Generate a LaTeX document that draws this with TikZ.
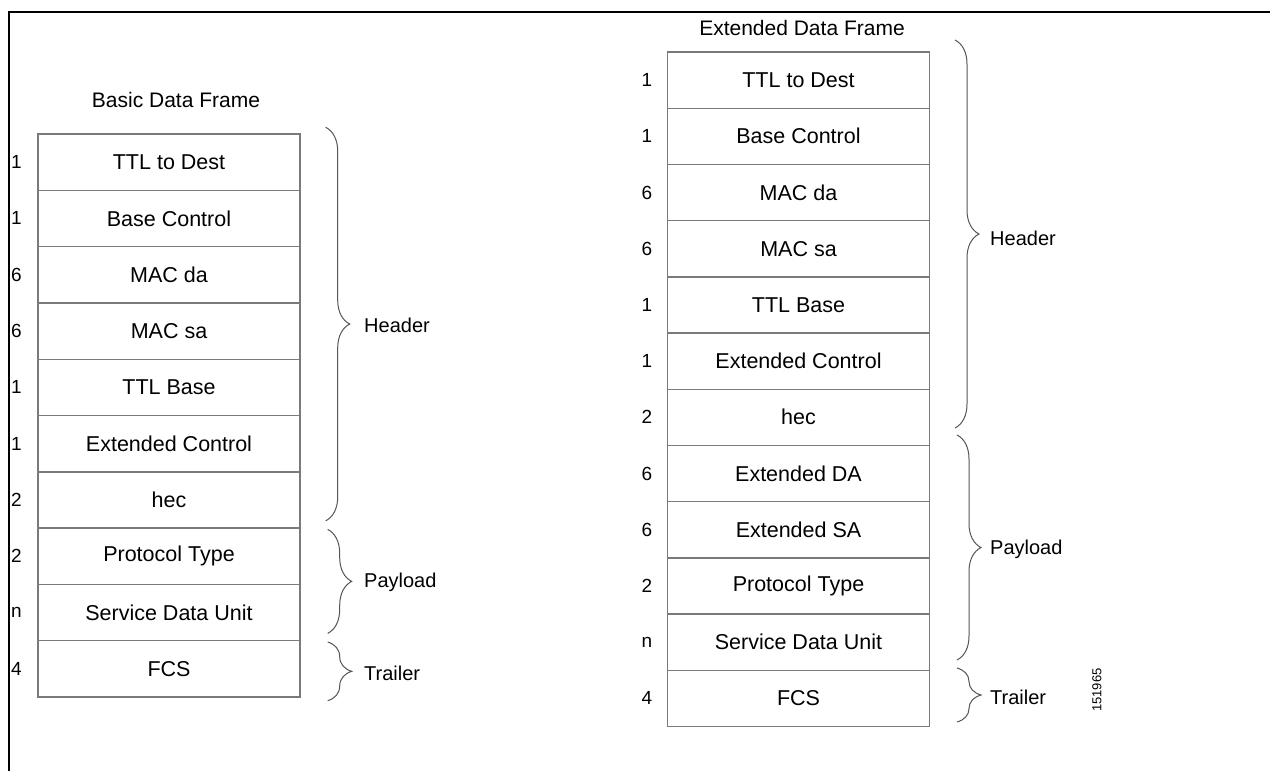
\documentclass[tikz,border=0pt]{standalone}
\usepackage{fontspec}
\setmainfont{Liberation Sans}
\usetikzlibrary{decorations.pathreplacing,calc}
\definecolor{rowgray}{HTML}{7A7A7A}
\definecolor{bracegray}{HTML}{555555}
\begin{document}
\begin{tikzpicture}[x=1pt,y=-1pt,
  rowbox/.style={draw=rowgray,line width=1.4pt,minimum width=262pt,minimum height=56.3pt,inner sep=0pt,font=\fontsize{21.5}{25}\selectfont},
  numlab/.style={inner sep=0pt,font=\fontsize{19}{22}\selectfont},
  titlelab/.style={inner sep=0pt,font=\fontsize{21}{24}\selectfont},
  bracelab/.style={anchor=west,inner sep=0pt,font=\fontsize{20}{24}\selectfont},
  curly/.style={draw=bracegray,line width=1pt,decorate,decoration={brace,amplitude=24pt}},
  framerule/.style={line width=2.5pt}]
\useasboundingbox (0,0) rectangle (1270,771);
\fill[white] (0,0) rectangle (1270,771);
% outer frame
\coordinate (fa) at (9,771);
\coordinate (fb) at (9,12);
\coordinate (fc) at (1270,12);
\draw[framerule] (fa) -- (fb) -- (fc);
% left frame
\node[titlelab] (Ltitle) at (176,100) {Basic Data Frame};
\foreach \t/\n [count=\i] in {TTL to Dest/1,Base Control/1,MAC da/6,MAC sa/6,TTL Base/1,Extended Control/1,hec/2,Protocol Type/2,Service Data Unit/n,FCS/4}{
  \node[rowbox] (L\i) at (169,{134+56.3*(\i-0.5)}) {\t};
  \node[numlab,anchor=west] (LN\i) at (11,{134+56.3*(\i-0.5)}) {\n};
}
\coordinate (LHa) at ($(L1.north east)+(25,-6)$);
\coordinate (LHb) at ($(L7.south east)+(25,-8)$);
\coordinate (LPa) at ($(L8.north east)+(27,2)$);
\coordinate (LPb) at ($(L9.south east)+(27,-8)$);
\coordinate (LTa) at ($(L10.north east)+(27,2)$);
\coordinate (LTb) at ($(L10.south east)+(27,3)$);
\draw[curly] (LHa) -- (LHb);
\draw[curly] (LPa) -- (LPb);
\draw[curly] (LTa) -- (LTb);
\node[bracelab] (LHl) at (364,325) {Header};
\node[bracelab] (LPl) at (364,582) {Payload};
\node[bracelab] (LTl) at (364,673) {Trailer};
% right frame
\node[titlelab] (Rtitle) at (802,28) {Extended Data Frame};
\foreach \t/\n [count=\i] in {TTL to Dest/1,Base Control/1,MAC da/6,MAC sa/6,TTL Base/1,Extended Control/1,hec/2,Extended DA/6,Extended SA/6,Protocol Type/2,Service Data Unit/n,FCS/4}{
  \node[rowbox,minimum height=56.2pt] (R\i) at (798.5,{52+56.2*(\i-0.5)}) {\t};
  \node[numlab] (RN\i) at (647,{52+56.2*(\i-0.5)}) {\n};
}
\coordinate (RHa) at (955,40);
\coordinate (RHb) at (955,428);
\coordinate (RPa) at (957,435);
\coordinate (RPb) at (957,660);
\coordinate (RTa) at (957,668);
\coordinate (RTb) at (957,722);
\draw[curly] (RHa) -- (RHb);
\draw[curly] (RPa) -- (RPb);
\draw[curly] (RTa) -- (RTb);
\node[bracelab] (RHl) at (990,238) {Header};
\node[bracelab] (RPl) at (990,549) {Payload};
\node[bracelab] (RTl) at (990,697) {Trailer};
\node[inner sep=0pt,rotate=90,font=\fontsize{13}{13}\selectfont] (fig) at (1097,690) {151965};
\end{tikzpicture}
\end{document}
